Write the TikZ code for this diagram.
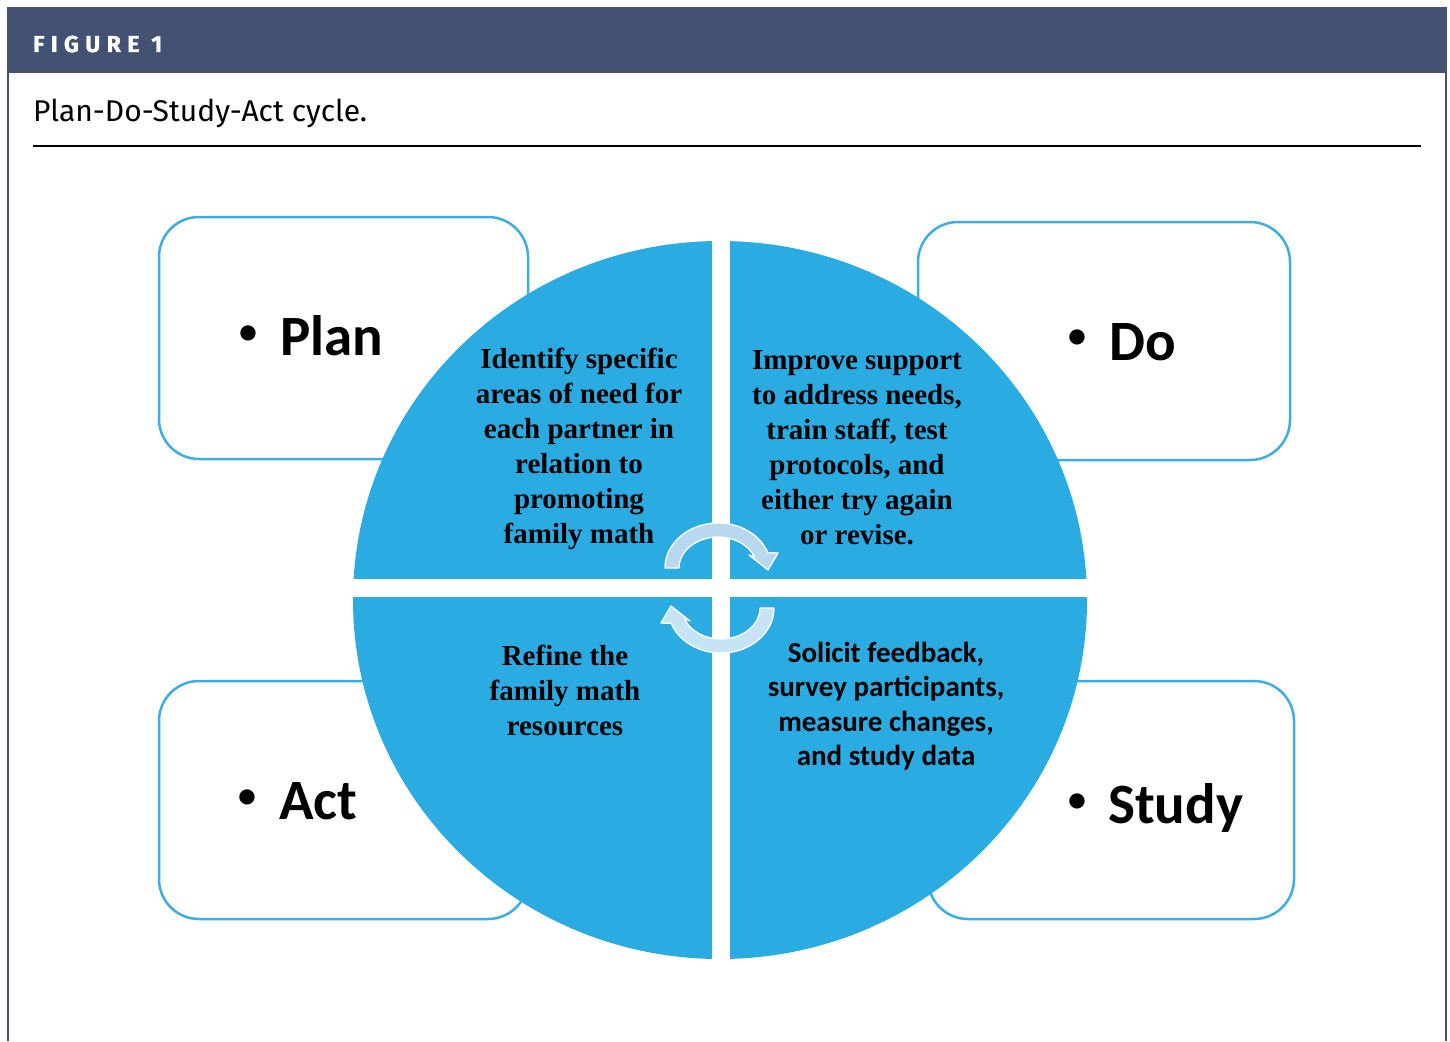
\documentclass[tikz,border=0pt]{standalone}
\usepackage{fontspec}
\setmainfont{Liberation Serif}
\newfontfamily\carlito{Carlito}
\newfontfamily\capfont{Fira Sans}
\newfontfamily\figfont[LetterSpace=28, BoldFeatures={FakeBold=1.5}]{Fira Sans}
\definecolor{circblue}{RGB}{42,172,226}
\definecolor{boxblue}{RGB}{60,174,228}
\definecolor{headcol}{RGB}{67,82,114}
\definecolor{arrowtop}{RGB}{184,216,239}
\definecolor{arrowbot}{RGB}{198,228,246}
\tikzset{
  quad/.style={align=center, font=\fontsize{29}{35}\selectfont\bfseries, inner sep=0pt},
  quadc/.style={align=center, font=\carlito\fontsize{29}{34.5}\selectfont\bfseries, inner sep=0pt},
  lab/.style={font=\carlito\fontsize{57}{60}\selectfont\bfseries, inner sep=0pt, anchor=base west},
  bul/.style={font=\carlito\fontsize{36}{36}\selectfont\bfseries, inner sep=0pt, anchor=center},
  pdbox/.style={draw=boxblue, line width=2.5pt, fill=white, rounded corners=40pt, inner sep=0pt},
  cyclearrow/.style={draw=white, line width=1.3pt, line join=round},
}
\begin{document}
\begin{tikzpicture}[x=1pt, y=-1pt]
\useasboundingbox (0,0) rectangle (1450,1041);
\fill[white] (0,0) rectangle (1450,1041);
% header and frame
\fill[headcol] (7,7) rectangle (1447,73);
\draw[headcol, line width=2pt] (8,73) -- (8,1041);
\draw[headcol, line width=1.6pt] (1446,73) -- (1446,1041);
\node[anchor=base west, font=\figfont\bfseries\fontsize{23}{23}\selectfont, text=white, inner sep=0pt] (fig) at (33,52) {FIGURE 1};
\node[anchor=base west, font=\capfont\fontsize{30}{31}\selectfont, inner sep=0pt] (cap) at (33,121.5) {Plan-Do-Study-Act cycle.};
\draw[line width=1.4pt] (33,146) -- (1421,146);
% boxes
\node[pdbox, minimum width=369pt, minimum height=242pt] (planbox) at (343.5,338) {};
\node[pdbox, minimum width=372pt, minimum height=238pt] (dobox) at (1104,341) {};
\node[pdbox, minimum width=369pt, minimum height=238pt] (actbox) at (343.5,800) {};
\node[pdbox, minimum width=366pt, minimum height=238pt] (studybox) at (1111,800) {};
% circle quadrants
\begin{scope}
\clip (720,600) ellipse [x radius=367, y radius=359];
\fill[circblue] (340,230) rectangle (712,579);
\fill[circblue] (730,230) rectangle (1100,579);
\fill[circblue] (340,597) rectangle (712,970);
\fill[circblue] (730,597) rectangle (1100,970);
\end{scope}
% labels
\node[bul] (planbul) at (248,335) {•};
\node[lab] (plan) at (280,355) {Plan};
\node[bul] (dobul) at (1077,339) {•};
\node[lab] (do) at (1109,360) {Do};
\node[bul] (actbul) at (247,799) {•};
\node[lab] (act) at (279,819) {Act};
\node[bul] (studybul) at (1077,803) {•};
\node[lab] (study) at (1108,823) {Study};
% quadrant texts
\node[quad] (tl) at (579,449) {Identify specific\\areas of need for\\each partner in\\relation to\\promoting\\family math};
\node[quad] (tr) at (857,448) {Improve support\\to address needs,\\train staff, test\\protocols, and\\either try again\\or revise.};
\node[quad] (bl) at (565,690) {Refine the\\family math\\resources};
\node[quadc] (br) at (886,706) {Solicit feedback,\\survey participants,\\measure changes,\\and study data};
% cycle arrows
\path[cyclearrow, fill=arrowtop] (665,568) arc[start angle=180, end angle=340, x radius=53, y radius=45]
  -- (778,553) -- (768,570) -- (749,555) -- (754.6,557.4)
  arc[start angle=340, end angle=180, x radius=39, y radius=31] -- cycle;
\begin{scope}[rotate around={180:(719.5,588)}]
\path[cyclearrow, fill=arrowbot] (665,568) arc[start angle=180, end angle=340, x radius=53, y radius=45]
  -- (778,553) -- (768,570) -- (749,555) -- (754.6,557.4)
  arc[start angle=340, end angle=180, x radius=39, y radius=31] -- cycle;
\end{scope}
\end{tikzpicture}
\end{document}
